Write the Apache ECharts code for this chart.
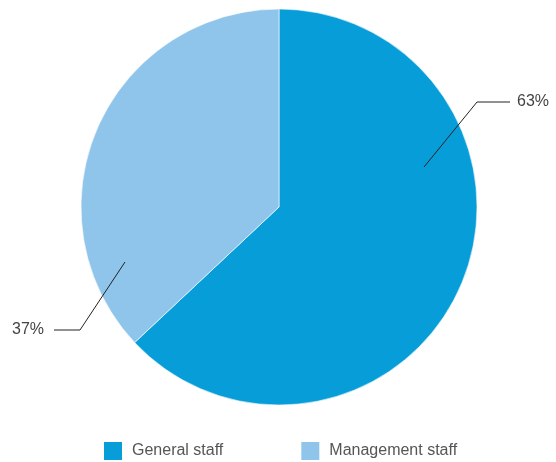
<!DOCTYPE html>
<html>
<head>
<meta charset="utf-8">
<script src="https://cdn.jsdelivr.net/npm/echarts@6/dist/echarts.min.js"></script>
<style>
  html, body { margin: 0; padding: 0; background: #fff; }
  #chart { width: 556px; height: 462px; }
</style>
</head>
<body>
<div id="chart"></div>
<script>
// Staff composition
var categories = ['General staff', 'Management staff'];
var shares = [63, 37];
var colors = ['#069dd9', '#8fc5ea'];

var CX = 279, CY = 207, R = 198;

// Leader lines: start inside each slice, bend once, then run horizontally to the label
var leaders = [
  { start: [424, 167], elbow: [477, 102], end: [510, 102], label: [517, 102], align: 'left' },
  { start: [125, 262], elbow: [80, 330], end: [54, 330], label: [44, 330], align: 'right' }
];

function pieData(transparent) {
  return categories.map(function (name, i) {
    return { name: name, value: shares[i], itemStyle: { color: transparent ? 'rgba(0,0,0,0)' : colors[i] } };
  });
}

var chart = echarts.init(document.getElementById('chart'));
chart.setOption({
  animation: false,
  color: colors,
  legend: {
    left: 97,
    top: 435,
    itemWidth: 20,
    itemHeight: 20,
    itemGap: 76,
    icon: 'rect',
    textStyle: { fontSize: 16, color: '#555', fontFamily: 'Liberation Sans, Arial, sans-serif', padding: [0, 0, 0, 4] },
    data: categories.map(function (name, i) {
      return { name: name, itemStyle: { color: colors[i] } };
    })
  },
  series: [{
    // coloured slices
    type: 'pie',
    z: 1,
    center: [CX, CY],
    radius: [0, R],
    startAngle: 90,
    clockwise: true,
    silent: true,
    itemStyle: { borderColor: '#fff', borderWidth: 0.6 },
    label: { show: false },
    labelLine: { show: false },
    data: pieData(false)
  }, {
    // overlay carrying the percentage labels and their leader lines
    type: 'pie',
    z: 5,
    center: [CX, CY],
    radius: [0, R],
    startAngle: 90,
    clockwise: true,
    silent: true,
    legendHoverLink: false,
    itemStyle: { borderWidth: 0 },
    label: {
      show: true,
      position: 'outside',
      formatter: '{d}%',
      fontSize: 16,
      color: '#444',
      fontFamily: 'Liberation Sans, Arial, sans-serif'
    },
    labelLine: { show: true, showAbove: true, lineStyle: { color: '#222', width: 1 } },
    labelLayout: function (params) {
      var l = leaders[params.dataIndex];
      return {
        x: l.label[0],
        y: l.label[1],
        align: l.align,
        verticalAlign: 'middle',
        labelLinePoints: [l.start, l.elbow, l.end]
      };
    },
    data: pieData(true)
  }]
});
</script>
</body>
</html>
